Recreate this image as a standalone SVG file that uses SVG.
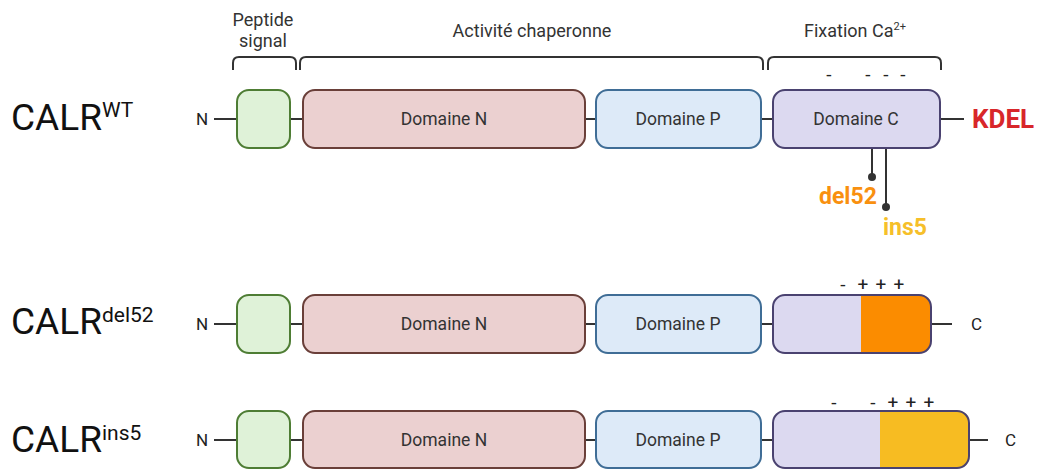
<svg xmlns="http://www.w3.org/2000/svg" width="1038" height="470" viewBox="0 0 1038 470">
<style>
text{font-family:Roboto,"Liberation Sans",sans-serif;fill:#222}
.dom{font-size:17.5px;text-anchor:middle;fill:#333}
.lbl{font-size:18px;text-anchor:middle;fill:#333}
.big{font-size:37px;fill:#111}
.sup{font-size:21px;fill:#111}
.term{font-size:17px;fill:#222}
.sign{font-size:19px;text-anchor:middle;fill:#222}
.ln{stroke:#333;stroke-width:2;fill:none}
.br{stroke:#333;stroke-width:2;fill:none;stroke-linejoin:round}
.sp{fill:#dff2d8;stroke:#4e7d34;stroke-width:2}
.nd{fill:#ebd0d0;stroke:#6a3f39;stroke-width:2}
.pd{fill:#ddeaf8;stroke:#3f6d96;stroke-width:2}
.cd{fill:#dcd9f0;stroke:#4a4270;stroke-width:2}
.cdo{fill:none;stroke:#4a4270;stroke-width:2}
</style>
<g id="brackets">
<path class="br" d="M233 70 V63 Q233 57 239 57 H290 Q296 57 296 63 V70"/>
<path class="br" d="M300 70 V63 Q300 57 306 57 H757 Q763 57 763 63 V70"/>
<path class="br" d="M768 70 V63 Q768 57 774 57 H935 Q941 57 941 63 V70"/>
<text class="lbl" x="263" y="26">Peptide</text>
<text class="lbl" x="263" y="47">signal</text>
<text class="lbl" x="532" y="37">Activité chaperonne</text>
<text class="lbl" x="855" y="37">Fixation Ca<tspan font-size="11" dy="-7">2+</tspan></text>
</g>
<g id="connectors">
<line class="ln" x1="214" y1="119" x2="237" y2="119"/>
<line class="ln" x1="290" y1="119" x2="303" y2="119"/>
<line class="ln" x1="585" y1="119" x2="596" y2="119"/>
<line class="ln" x1="761" y1="119" x2="773" y2="119"/>
<line class="ln" x1="940" y1="119" x2="964" y2="119"/>
<line class="ln" x1="872" y1="148" x2="872" y2="177"/>
<circle cx="872" cy="177" r="4" fill="#333"/>
<line class="ln" x1="886" y1="148" x2="886" y2="207"/>
<circle cx="886" cy="207" r="4" fill="#333"/>
<line class="ln" x1="214" y1="324" x2="237" y2="324"/>
<line class="ln" x1="290" y1="324" x2="303" y2="324"/>
<line class="ln" x1="585" y1="324" x2="596" y2="324"/>
<line class="ln" x1="761" y1="324" x2="773" y2="324"/>
<line class="ln" x1="931" y1="324" x2="952" y2="324"/>
<line class="ln" x1="214" y1="440" x2="237" y2="440"/>
<line class="ln" x1="290" y1="440" x2="303" y2="440"/>
<line class="ln" x1="585" y1="440" x2="596" y2="440"/>
<line class="ln" x1="761" y1="440" x2="773" y2="440"/>
<line class="ln" x1="969" y1="440" x2="988" y2="440"/>
</g>
<g id="row-wt">
<text class="big" x="11" y="130">CALR<tspan class="sup" dy="-13">WT</tspan></text>
<text class="term" x="196" y="125">N</text>
<g id="wt-signal"><rect class="sp" x="237" y="90" width="53" height="58" rx="12"/></g>
<g id="wt-n"><rect class="nd" x="303" y="90" width="282" height="58" rx="12"/><text class="dom" x="444" y="125">Domaine N</text></g>
<g id="wt-p"><rect class="pd" x="596" y="90" width="165" height="58" rx="12"/><text class="dom" x="678" y="125">Domaine P</text></g>
<g id="wt-c"><rect class="cd" x="773" y="90" width="167" height="58" rx="12"/><text class="dom" x="856" y="125">Domaine C</text></g>
<text x="829" y="81" class="sign">-</text>
<text x="868" y="81" class="sign">-</text>
<text x="886" y="81" class="sign">-</text>
<text x="903" y="81" class="sign">-</text>
<text x="972" y="128" font-size="26" font-weight="bold" style="fill:#d8262a">KDEL</text>
<text x="819" y="204" font-size="23" font-weight="bold" style="fill:#f9900f">del52</text>
<text x="883" y="235" font-size="23" font-weight="bold" style="fill:#f6bf2a">ins5</text>
</g>
<g id="row-del52">
<text class="big" x="11" y="334">CALR<tspan class="sup" dy="-12">del52</tspan></text>
<text class="term" x="196" y="330">N</text>
<g id="del-signal"><rect class="sp" x="237" y="295" width="53" height="58" rx="12"/></g>
<g id="del-n"><rect class="nd" x="303" y="295" width="282" height="58" rx="12"/><text class="dom" x="444" y="330">Domaine N</text></g>
<g id="del-p"><rect class="pd" x="596" y="295" width="165" height="58" rx="12"/><text class="dom" x="678" y="330">Domaine P</text></g>
<g id="del-c">
<rect x="773" y="295" width="158" height="58" rx="12" fill="#dcd9f0"/>
<path d="M861 295 H919 Q931 295 931 307 V341 Q931 353 919 353 H861 Z" fill="#fb8c00"/>
<rect class="cdo" x="773" y="295" width="158" height="58" rx="12"/>
</g>
<text x="843" y="291" class="sign">-</text>
<text x="863" y="291" class="sign">+</text>
<text x="881" y="291" class="sign">+</text>
<text x="899" y="291" class="sign">+</text>
<text class="term" x="971" y="330">C</text>
</g>
<g id="row-ins5">
<text class="big" x="11" y="452">CALR<tspan class="sup" dy="-12">ins5</tspan></text>
<text class="term" x="196" y="446">N</text>
<g id="ins-signal"><rect class="sp" x="237" y="411" width="53" height="57" rx="12"/></g>
<g id="ins-n"><rect class="nd" x="303" y="411" width="282" height="57" rx="12"/><text class="dom" x="444" y="446">Domaine N</text></g>
<g id="ins-p"><rect class="pd" x="596" y="411" width="165" height="57" rx="12"/><text class="dom" x="678" y="446">Domaine P</text></g>
<g id="ins-c">
<rect x="773" y="411" width="196" height="57" rx="12" fill="#dcd9f0"/>
<path d="M880 411 H957 Q969 411 969 423 V456 Q969 468 957 468 H880 Z" fill="#f7bc22"/>
<rect class="cdo" x="773" y="411" width="196" height="57" rx="12"/>
</g>
<text x="834" y="409" class="sign">-</text>
<text x="873" y="409" class="sign">-</text>
<text x="893" y="409" class="sign">+</text>
<text x="911" y="409" class="sign">+</text>
<text x="929" y="409" class="sign">+</text>
<text class="term" x="1005" y="446">C</text>
</g>
</svg>
